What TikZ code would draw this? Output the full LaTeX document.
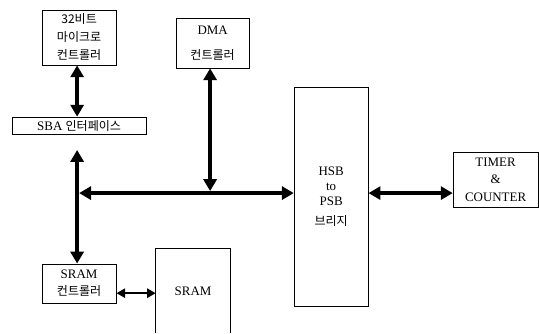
\documentclass[tikz,border=0pt]{standalone}
\usepackage{fontspec}
\setmainfont{Liberation Serif}
\newfontfamily\kr[Scale=0.93]{Noto Sans CJK KR}
\usetikzlibrary{arrows.meta}

\begin{document}
\begin{tikzpicture}[line width=0.8pt,
  box/.style={draw, align=center, inner sep=0pt, font=\fontsize{13}{18}\selectfont},
  bus/.style={line width=4pt, {Triangle[length=4.2mm,width=4.6mm]}-{Triangle[length=4.2mm,width=4.6mm]}},
  sbus/.style={line width=2.5pt, {Triangle[length=3mm,width=3.2mm]}-{Triangle[length=3mm,width=3.2mm]}}]
  \useasboundingbox (0,0) rectangle (19.01,-11.75);
  % 블록
  \node[box, minimum width=2.61cm, minimum height=1.94cm] (cpu) at (2.79,-1.32)
    {{\kr 32비트}\\{\kr 마이크로}\\{\kr 컨트롤러}};
  \node[box, minimum width=2.57cm, minimum height=1.73cm] (dma) at (7.50,-1.53)
    {DMA\\[7pt]{\kr 컨트롤러}};
  \node[box, minimum width=4.73cm, minimum height=0.60cm] (sba) at (2.79,-4.43)
    {SBA {\kr 인터페이스}};
  \node[box, minimum width=2.61cm, minimum height=1.38cm, font=\fontsize{13}{17}\selectfont] (sramc) at (2.79,-10.0)
    {SRAM\\{\kr 컨트롤러}};
  \node[box, draw=none, minimum width=2.61cm, minimum height=2.96cm] (sram) at (6.81,-10.26) {SRAM};
  \draw (sram.south west) |- (sram.north east) -- (sram.south east);
  \node[box, minimum width=2.61cm, minimum height=7.72cm, font=\fontsize{13}{15}\selectfont] (bridge) at (11.68,-6.93)
    {HSB\\to\\PSB\\[5pt]{\kr 브리지}};
  \node[box, minimum width=3.0cm, minimum height=1.94cm, font=\fontsize{13}{17.5}\selectfont] (timer) at (17.48,-6.33)
    {TIMER\\\&\\COUNTER};
  % 버스
  \coordinate (vtop) at (2.72,-5.29);
  \coordinate (join) at (2.72,-6.81);
  \coordinate (dmab) at (7.41,-6.81);
  \draw[bus] (cpu.south -| vtop) -- (sba.north -| vtop);
  \draw[bus] (vtop) -- (vtop |- sramc.north);
  \draw[bus] ([xshift=2pt]join) -- (join -| bridge.west);
  \draw[bus] (dma.south -| dmab) -- ([yshift=2pt]dmab);
  \draw[bus] (bridge.east |- join) -- (timer.west |- join);
  \draw[sbus] ([yshift=-0.34cm]sramc.east) -- ([yshift=-0.34cm]sramc.east -| sram.west);
\end{tikzpicture}
\end{document}
